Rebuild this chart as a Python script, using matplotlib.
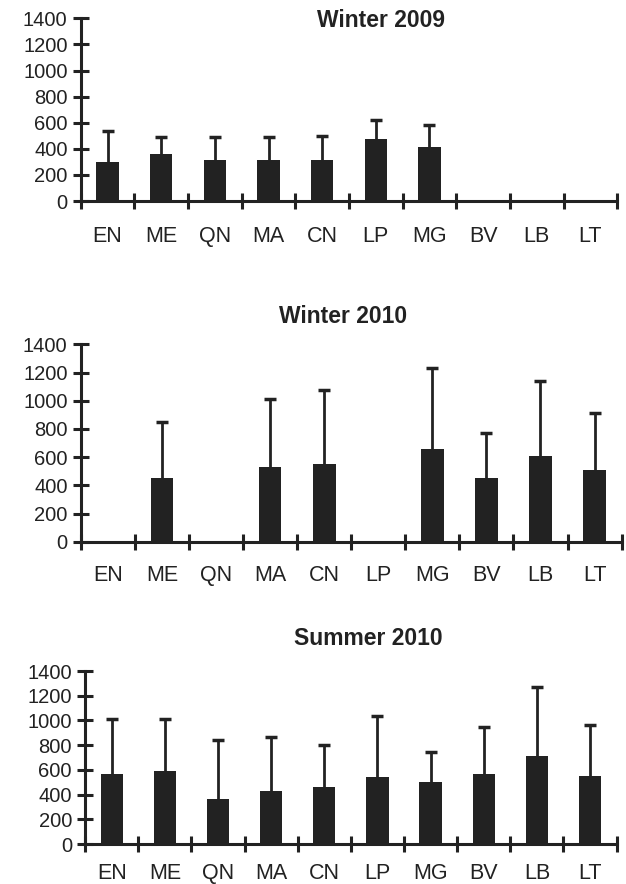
import numpy as np
import matplotlib.pyplot as plt

plt.rcParams['font.family'] = ['Liberation Sans', 'DejaVu Sans']

sites = ["EN", "ME", "QN", "MA", "CN", "LP", "MG", "BV", "LB", "LT"]

titles = ["Winter 2009", "Winter 2010", "Summer 2010"]

w09_mean = [301, 360, 314, 314, 314, 475, 416, 0, 0, 0]
w09_sd = [236, 133, 179, 179, 184, 146, 164, 0, 0, 0]

w10_mean = [0, 452, 0, 533, 550, 0, 660, 455, 610, 512]
w10_sd = [0, 400, 0, 477, 526, 0, 573, 319, 528, 400]

s10_mean = [564, 594, 365, 433, 465, 540, 500, 564, 715, 553]
s10_sd = [446, 416, 479, 435, 338, 497, 247, 385, 556, 414]

means = [w09_mean, w10_mean, s10_mean]
sds = [w09_sd, w10_sd, s10_sd]

# axes rectangles in figure fractions
rects = [
    [0.129, 0.7726, 0.857, 0.2067],
    [0.129, 0.3872, 0.864, 0.2233],
    [0.136, 0.0452, 0.849, 0.1957],
]
title_pos = [(0.609, 0.977), (0.548, 0.6425), (0.589, 0.278)]
xpads = [18, 17, 14]

col = "#222222"
fig = plt.figure(figsize=(6.26, 8.84), dpi=100)

x = np.arange(1, len(sites) + 1)
for i in range(3):
    ax = fig.add_axes(rects[i])
    m = np.array(means[i])
    sd = np.array(sds[i])
    ax.bar(x, m, width=0.42, color=col, zorder=2)
    has = sd > 0
    eb = ax.errorbar(x[has], m[has], yerr=[np.zeros(has.sum()), sd[has]],
                     fmt="none", ecolor=col, elinewidth=2, capsize=4.5,
                     capthick=2.5, clip_on=False, zorder=3)
    # only the upper cap
    eb[1][0].set_visible(False)
    ax.set_xlim(0.5, len(sites) + 0.5)
    ax.set_ylim(0, 1400)
    ax.set_yticks(np.arange(0, 1401, 200))
    ax.set_xticks(np.arange(0.5, len(sites) + 1, 1))
    ax.set_xticklabels([])
    ax.set_xticks(x, minor=True)
    ax.set_xticklabels(sites, minor=True, fontsize=15.5, color=col)
    ax.tick_params(axis="x", which="minor", length=0, pad=xpads[i])
    ax.tick_params(axis="x", which="major", direction="inout", length=11,
                   width=2.2, color=col)
    ax.tick_params(axis="y", direction="inout", length=11, width=2.2,
                   color=col, labelsize=14.5, labelcolor=col, pad=4)
    for s in ["top", "right"]:
        ax.spines[s].set_visible(False)
    for s in ["left", "bottom"]:
        ax.spines[s].set_linewidth(2.2)
        ax.spines[s].set_color(col)
    fig.text(title_pos[i][0], title_pos[i][1], titles[i], ha="center",
             va="center", fontsize=16.5, fontweight="bold", color=col)

fig.savefig("out.png", dpi=100)
